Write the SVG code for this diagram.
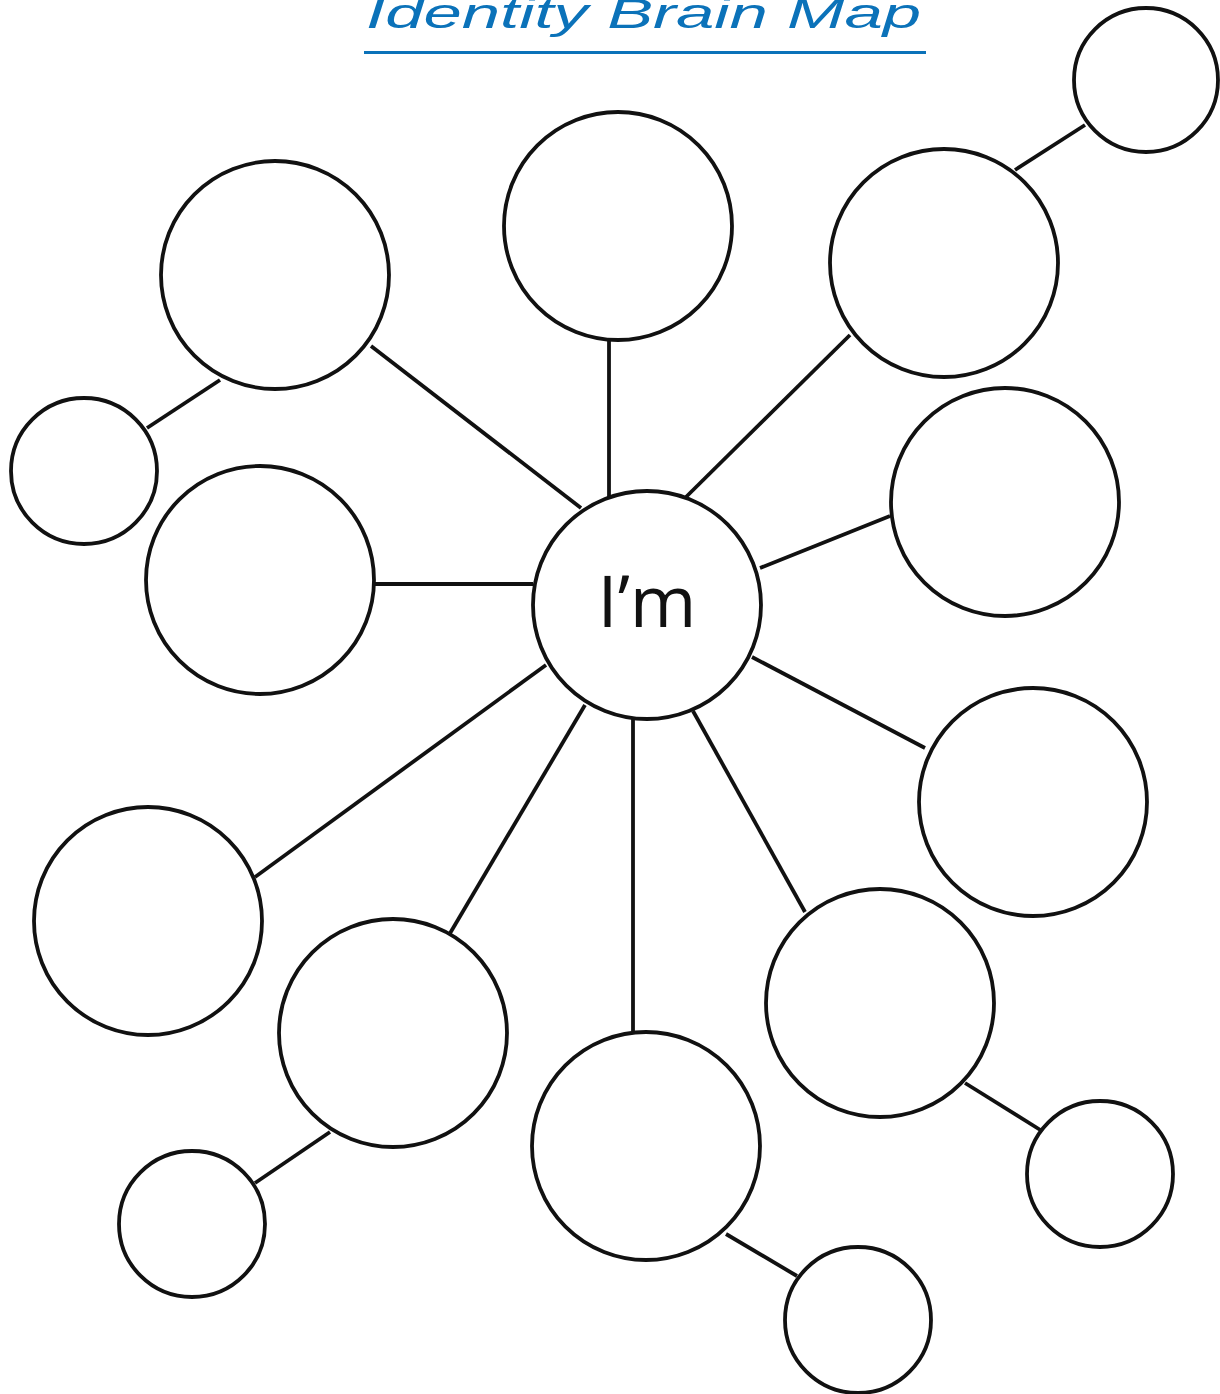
<svg xmlns="http://www.w3.org/2000/svg" width="1220" height="1394" viewBox="0 0 1220 1394">
<style>
.c{fill:#fff;stroke:#111;stroke-width:3.8}
.l{stroke:#111;stroke-width:3.8;stroke-linecap:butt}
.t{font-family:"Liberation Sans",Arial,sans-serif;font-style:italic;fill:#0b72b9}
.m{font-family:"Open Sans","Liberation Sans",sans-serif;fill:#111}
</style>
<rect width="1220" height="1394" fill="#fff"/>
<g id="title">
<text class="t" x="366" y="28" font-size="42" textLength="555" lengthAdjust="spacingAndGlyphs">Identity Brain Map</text>
<rect x="364" y="51" width="562" height="3" fill="#0b72b9"/>
</g>
<g id="connectors">
<line class="l" x1="371" y1="346" x2="581" y2="508"/>
<line class="l" x1="609" y1="341" x2="609" y2="497"/>
<line class="l" x1="850" y1="335" x2="686" y2="497"/>
<line class="l" x1="890" y1="516" x2="760" y2="568"/>
<line class="l" x1="375" y1="584" x2="533" y2="584"/>
<line class="l" x1="925" y1="748" x2="752" y2="657"/>
<line class="l" x1="255" y1="877" x2="546" y2="665"/>
<line class="l" x1="449" y1="935" x2="585" y2="705"/>
<line class="l" x1="633" y1="1031" x2="633" y2="718"/>
<line class="l" x1="805" y1="912" x2="693" y2="711"/>
<line class="l" x1="1015" y1="170" x2="1085" y2="125"/>
<line class="l" x1="147" y1="428" x2="220" y2="380"/>
<line class="l" x1="255" y1="1183" x2="330" y2="1132"/>
<line class="l" x1="965" y1="1083" x2="1042" y2="1131"/>
<line class="l" x1="726" y1="1234" x2="797" y2="1276"/>
</g>
<g id="center"><circle class="c" cx="647" cy="605" r="114"/><text class="m" x="647" y="627" font-size="72" text-anchor="middle">I’m</text></g>
<g id="n1"><circle class="c" cx="275" cy="275" r="114"/></g>
<g id="n2"><circle class="c" cx="618" cy="226" r="114"/></g>
<g id="n3"><circle class="c" cx="944" cy="263" r="114"/></g>
<g id="n4"><circle class="c" cx="1005" cy="502" r="114"/></g>
<g id="n5"><circle class="c" cx="260" cy="580" r="114"/></g>
<g id="n6"><circle class="c" cx="1033" cy="802" r="114"/></g>
<g id="n7"><circle class="c" cx="148" cy="921" r="114"/></g>
<g id="n8"><circle class="c" cx="393" cy="1033" r="114"/></g>
<g id="n9"><circle class="c" cx="646" cy="1146" r="114"/></g>
<g id="n10"><circle class="c" cx="880" cy="1003" r="114"/></g>
<g id="s1"><circle class="c" cx="1146" cy="80" r="72"/></g>
<g id="s2"><circle class="c" cx="84" cy="471" r="73"/></g>
<g id="s3"><circle class="c" cx="192" cy="1224" r="73"/></g>
<g id="s4"><circle class="c" cx="1100" cy="1174" r="73"/></g>
<g id="s5"><circle class="c" cx="858" cy="1320" r="73"/></g>
</svg>
